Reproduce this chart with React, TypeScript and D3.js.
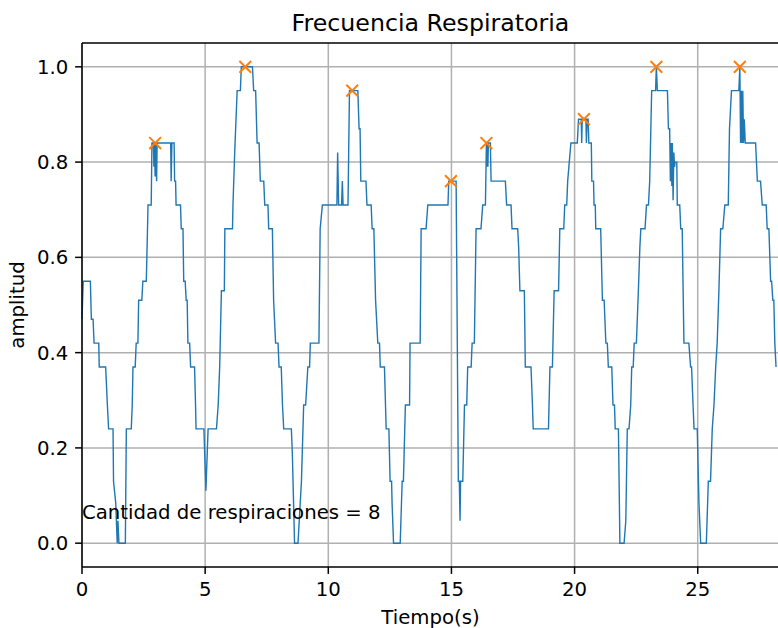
import React from 'react';
import * as d3 from 'd3';

// señal respiratoria (tiempo en s, amplitud normalizada)
const tiempo = [
  0.00, 0.05, 0.34, 0.38, 0.45, 0.49, 0.68, 0.70, 0.96, 1.03, 1.08, 1.26, 1.28, 1.37, 1.43, 1.46, 1.50, 1.76, 1.80, 2.00,
  2.04, 2.07, 2.16, 2.20, 2.27, 2.30, 2.43, 2.47, 2.61, 2.66, 2.68, 2.81, 2.84, 2.90, 2.92, 2.94, 2.97, 2.99, 3.03, 3.05,
  3.60, 3.62, 3.65, 3.74, 3.76, 3.80, 3.82, 4.00, 4.03, 4.10, 4.13, 4.19, 4.23, 4.27, 4.30, 4.37, 4.41, 4.57, 4.61, 4.63,
  4.95, 5.03, 5.12, 5.46, 5.53, 5.59, 5.66, 5.78, 5.80, 6.11, 6.13, 6.20, 6.30, 6.43, 6.47, 6.92, 6.97, 7.05, 7.11, 7.19,
  7.24, 7.38, 7.42, 7.55, 7.58, 7.73, 7.78, 7.86, 7.96, 8.00, 8.09, 8.14, 8.19, 8.50, 8.54, 8.63, 8.77, 8.91, 9.00, 9.08,
  9.17, 9.24, 9.27, 9.62, 9.67, 9.76, 10.35, 10.38, 10.42, 10.54, 10.57, 10.60, 10.80, 10.86, 11.20, 11.25, 11.29, 11.32, 11.53, 11.57,
  11.74, 11.78, 11.85, 11.92, 12.01, 12.08, 12.11, 12.28, 12.35, 12.46, 12.51, 12.57, 12.59, 12.65, 12.92, 13.00, 13.05, 13.13, 13.30, 13.32,
  13.73, 13.77, 13.97, 14.04, 14.86, 14.89, 15.19, 15.28, 15.32, 15.35, 15.37, 15.46, 15.53, 15.62, 15.66, 15.80, 15.84, 15.93, 16.00, 16.20,
  16.27, 16.38, 16.42, 16.44, 16.46, 16.48, 16.50, 16.58, 16.61, 17.19, 17.24, 17.42, 17.46, 17.69, 17.73, 17.78, 17.96, 18.00, 18.23, 18.29,
  18.32, 18.94, 19.00, 19.10, 19.17, 19.35, 19.40, 19.56, 19.60, 19.68, 19.72, 19.85, 20.11, 20.16, 20.27, 20.29, 20.31, 20.46, 20.48, 20.51,
  20.55, 20.58, 20.68, 20.70, 20.77, 20.79, 20.84, 20.86, 21.06, 21.13, 21.20, 21.27, 21.33, 21.37, 21.51, 21.56, 21.62, 21.65, 21.78, 21.84,
  22.01, 22.08, 22.14, 22.21, 22.28, 22.32, 22.38, 22.42, 22.51, 22.59, 22.65, 22.69, 22.86, 22.92, 23.00, 23.05, 23.13, 23.29, 23.32, 23.36,
  23.77, 23.81, 23.86, 23.89, 23.92, 23.95, 23.97, 24.00, 24.03, 24.06, 24.08, 24.15, 24.17, 24.27, 24.31, 24.37, 24.44, 24.64, 24.71, 24.75,
  24.81, 24.85, 24.98, 25.05, 25.12, 25.35, 25.43, 25.52, 25.59, 25.66, 25.73, 25.79, 25.86, 25.93, 26.02, 26.10, 26.24, 26.29, 26.37, 26.67,
  26.71, 26.74, 26.77, 26.80, 26.83, 26.86, 26.89, 26.93, 27.35, 27.42, 27.55, 27.62, 27.78, 27.82, 27.89, 27.96, 28.00, 28.05, 28.09, 28.13,
  28.18,
];

const amplitud = [
  0.47, 0.55, 0.55, 0.47, 0.47, 0.42, 0.42, 0.37, 0.37, 0.29, 0.24, 0.24, 0.13, 0.084, 0.0, 0.047, 0.0, 0.0, 0.24, 0.24,
  0.29, 0.37, 0.37, 0.42, 0.42, 0.51, 0.51, 0.55, 0.55, 0.66, 0.71, 0.71, 0.84, 0.84, 0.79, 0.84, 0.77, 0.84, 0.76, 0.84,
  0.84, 0.76, 0.84, 0.84, 0.76, 0.76, 0.71, 0.71, 0.66, 0.66, 0.55, 0.55, 0.51, 0.51, 0.42, 0.42, 0.37, 0.37, 0.29, 0.24,
  0.24, 0.11, 0.24, 0.24, 0.29, 0.37, 0.53, 0.53, 0.66, 0.66, 0.71, 0.82, 0.95, 0.95, 1.0, 1.0, 0.95, 0.95, 0.84, 0.84,
  0.76, 0.76, 0.71, 0.71, 0.66, 0.66, 0.51, 0.42, 0.42, 0.37, 0.37, 0.29, 0.24, 0.24, 0.19, 0.0, 0.0, 0.13, 0.29, 0.29,
  0.37, 0.37, 0.42, 0.42, 0.66, 0.71, 0.71, 0.82, 0.71, 0.71, 0.76, 0.71, 0.71, 0.95, 0.95, 0.87, 0.87, 0.76, 0.76, 0.71,
  0.71, 0.66, 0.66, 0.51, 0.42, 0.42, 0.37, 0.37, 0.24, 0.24, 0.13, 0.13, 0.084, 0.0, 0.0, 0.13, 0.13, 0.29, 0.29, 0.42,
  0.42, 0.66, 0.66, 0.71, 0.71, 0.76, 0.76, 0.13, 0.13, 0.047, 0.13, 0.13, 0.29, 0.29, 0.37, 0.37, 0.42, 0.42, 0.66, 0.66,
  0.71, 0.71, 0.84, 0.79, 0.84, 0.79, 0.84, 0.84, 0.76, 0.76, 0.71, 0.71, 0.66, 0.66, 0.62, 0.53, 0.53, 0.37, 0.37, 0.29,
  0.24, 0.24, 0.37, 0.37, 0.53, 0.53, 0.66, 0.66, 0.71, 0.71, 0.76, 0.84, 0.84, 0.89, 0.89, 0.84, 0.89, 0.89, 0.84, 0.89,
  0.89, 0.84, 0.84, 0.76, 0.76, 0.71, 0.71, 0.66, 0.66, 0.51, 0.51, 0.42, 0.42, 0.37, 0.37, 0.29, 0.29, 0.24, 0.24, 0.0,
  0.0, 0.047, 0.24, 0.24, 0.29, 0.37, 0.37, 0.42, 0.42, 0.53, 0.62, 0.66, 0.66, 0.71, 0.71, 0.76, 0.95, 0.95, 1.0, 0.95,
  0.95, 0.87, 0.87, 0.76, 0.84, 0.75, 0.84, 0.72, 0.82, 0.79, 0.80, 0.80, 0.71, 0.71, 0.66, 0.66, 0.42, 0.42, 0.37, 0.37,
  0.29, 0.24, 0.24, 0.084, 0.0, 0.0, 0.13, 0.13, 0.24, 0.29, 0.37, 0.42, 0.53, 0.66, 0.66, 0.71, 0.71, 0.87, 0.95, 0.95,
  1.0, 0.84, 0.95, 0.84, 0.95, 0.84, 0.89, 0.84, 0.84, 0.76, 0.76, 0.71, 0.71, 0.66, 0.66, 0.55, 0.55, 0.51, 0.51, 0.42,
  0.37,
];

// picos detectados
const picosT = [2.97, 6.63, 10.97, 14.98, 16.42, 20.38, 23.32, 26.71];
const picosA = [0.84, 1.0, 0.95, 0.76, 0.84, 0.89, 1.0, 1.0];

const xTicks = [0, 5, 10, 15, 20, 25];
const yTicks = [0.0, 0.2, 0.4, 0.6, 0.8, 1.0];

const numResp = picosT.length;

const W = 778;
const H = 628;
const margin = { top: 43, right: -1, bottom: 61, left: 82 };
const font = '"DejaVu Sans", sans-serif';
const fs = 19.7; // 10pt
const fsTitle = 23.7; // 12pt

export default function App() {
  const x = d3.scaleLinear().domain([0, 28.3]).range([margin.left, W - margin.right]);
  const y = d3.scaleLinear().domain([-0.05, 1.05]).range([H - margin.bottom, margin.top]);

  const datos = tiempo.map((t, i) => [t, amplitud[i]] as [number, number]);
  const linea = d3.line<[number, number]>()
    .x(d => x(d[0]))
    .y(d => y(d[1]));

  const x0 = margin.left;
  const x1 = W - margin.right;
  const y0 = H - margin.bottom;
  const y1 = margin.top;
  const tick = 6.9;

  return (
    <div style={{ position: 'absolute', left: 0, top: 0 }}>
      <svg width={W} height={H} style={{ display: 'block', background: '#fff' }} fontFamily={font}>
        {/* rejilla */}
        <g stroke="#b0b0b0" strokeWidth={1.5}>
          {xTicks.map(t => (
            <line key={'gx' + t} x1={x(t)} x2={x(t)} y1={y1} y2={y0} />
          ))}
          {yTicks.map(t => (
            <line key={'gy' + t} x1={x0} x2={x1} y1={y(t)} y2={y(t)} />
          ))}
        </g>

        <path d={linea(datos) || ''} fill="none" stroke="#1f77b4" strokeWidth={1.4} strokeLinejoin="miter" />

        {/* marcadores x en los picos */}
        <g stroke="#ff7f0e" strokeWidth={2}>
          {picosT.map((t, i) => {
            const cx = x(t);
            const cy = y(picosA[i]);
            const r = 5.9;
            return (
              <g key={'p' + i}>
                <line x1={cx - r} y1={cy - r} x2={cx + r} y2={cy + r} />
                <line x1={cx - r} y1={cy + r} x2={cx + r} y2={cy - r} />
              </g>
            );
          })}
        </g>

        <text x={x(0)} y={y(0.05)} fontSize={fs} fill="#000">
          {`Cantidad de respiraciones = ${numResp}`}
        </text>

        {/* ejes */}
        <g stroke="#000" strokeWidth={1.5} fill="none">
          <line x1={x0} x2={x0} y1={y1} y2={y0} />
          <line x1={x0} x2={x1} y1={y0} y2={y0} />
          <line x1={x0} x2={x1} y1={y1} y2={y1} />
          <line x1={x1} x2={x1} y1={y1} y2={y0} />
          {xTicks.map(t => (
            <line key={'tx' + t} x1={x(t)} x2={x(t)} y1={y0} y2={y0 + tick} />
          ))}
          {yTicks.map(t => (
            <line key={'ty' + t} x1={x0 - tick} x2={x0} y1={y(t)} y2={y(t)} />
          ))}
        </g>

        <g fontSize={fs} fill="#000">
          {xTicks.map(t => (
            <text key={'lx' + t} x={x(t)} y={y0 + 29} textAnchor="middle">{t}</text>
          ))}
          {yTicks.map(t => (
            <text key={'ly' + t} x={x0 - 2 * tick} y={y(t)} dy="0.36em" textAnchor="end">{t.toFixed(1)}</text>
          ))}
        </g>

        <text x={(x0 + x1) / 2} y={623.5} fontSize={fs} textAnchor="middle" fill="#000">Tiempo(s)</text>
        <text transform={`translate(24.3,${(y0 + y1) / 2}) rotate(-90)`} fontSize={fs} textAnchor="middle" fill="#000">amplitud</text>
        <text x={(x0 + x1) / 2} y={31} fontSize={fsTitle} textAnchor="middle" fill="#000">Frecuencia Respiratoria</text>
      </svg>
    </div>
  );
}
